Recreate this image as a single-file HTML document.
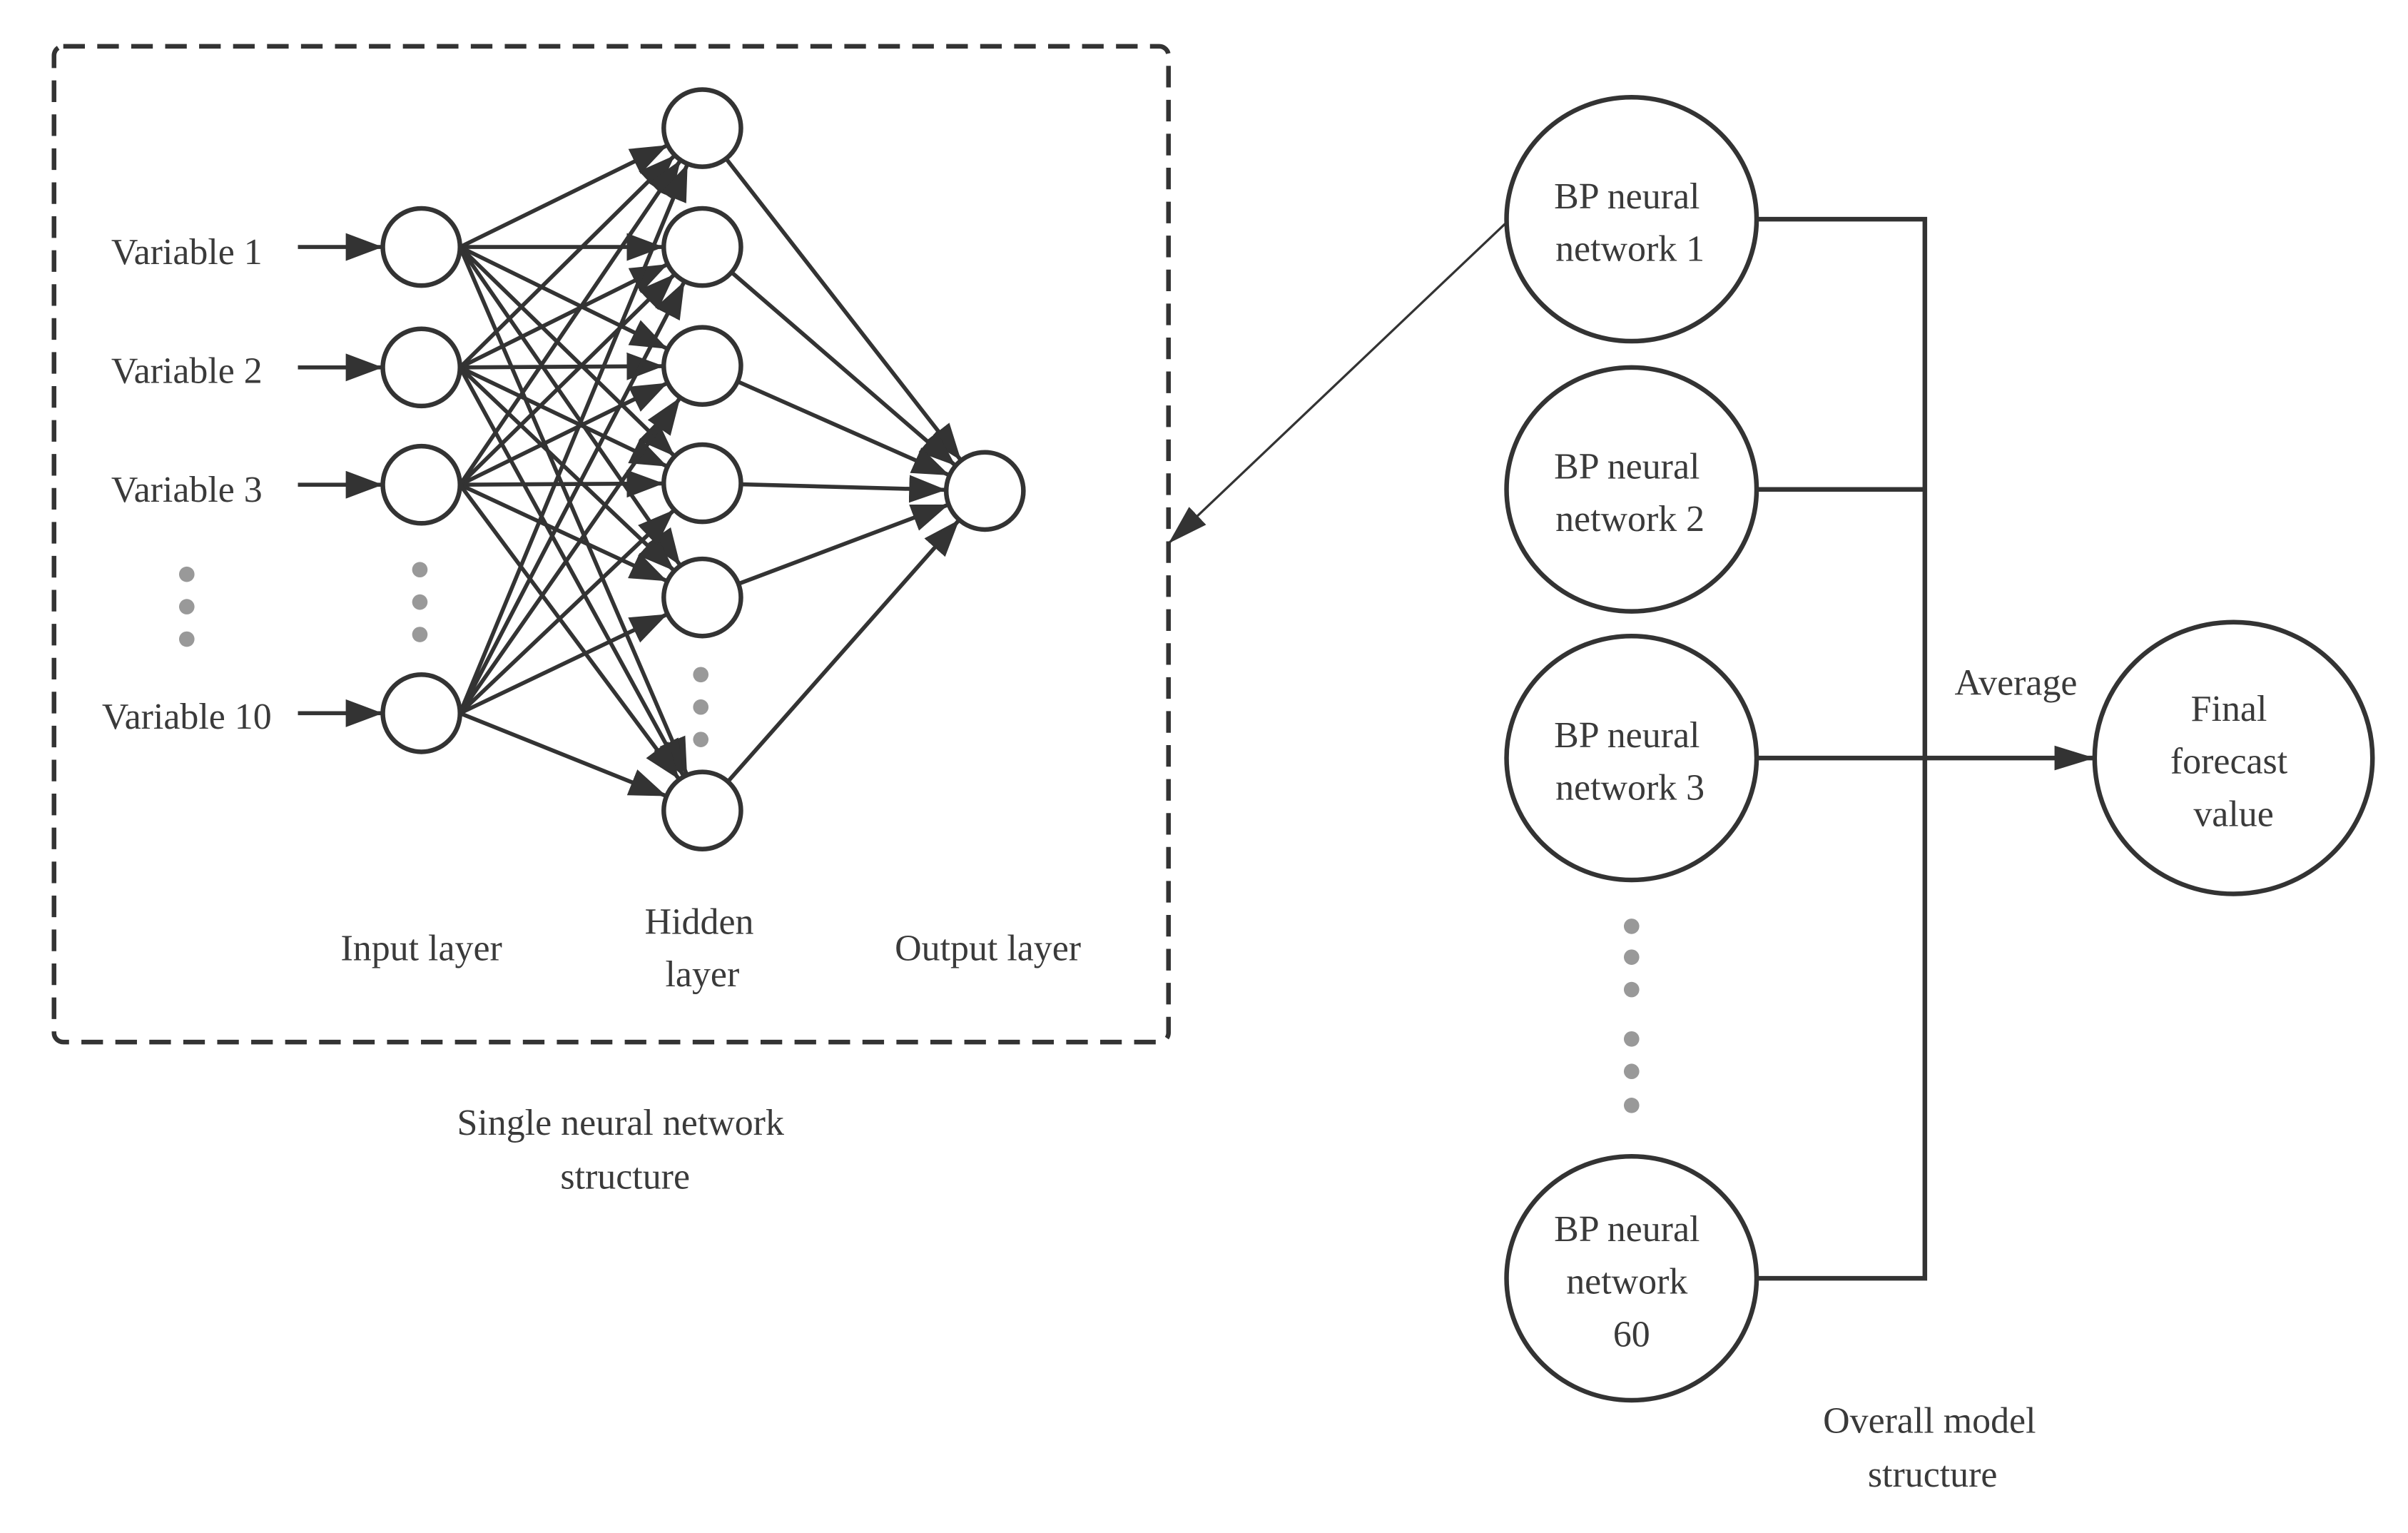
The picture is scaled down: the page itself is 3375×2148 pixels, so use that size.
<!DOCTYPE html>
<html><head><meta charset="utf-8"><style>
html,body{margin:0;padding:0;background:#fff}
svg{display:block}
svg text{font-family:"Liberation Serif","DejaVu Serif",serif;fill:#3a3a3a;font-size:24px}
</style></head><body>
<svg id="s" width="3375" height="2148" viewBox="0 0 1560 993" preserveAspectRatio="none" xmlns="http://www.w3.org/2000/svg">
<defs>
<marker id="a" markerUnits="userSpaceOnUse" markerWidth="26" markerHeight="18" refX="24" refY="9" orient="auto"><path d="M0,0 L24,9 L0,18 z" fill="#333"/></marker>
<marker id="b" markerUnits="userSpaceOnUse" markerWidth="28" markerHeight="18" refX="26" refY="9" orient="auto"><path d="M0,1 L26,9 L0,17 z" fill="#333"/></marker>
</defs>
<rect x="35" y="30" width="722" height="645" rx="6" fill="none" stroke="#333" stroke-width="3" stroke-dasharray="14,8"/>
<g id="edges" stroke="#333" stroke-width="2.6" fill="none"></g>
<g id="nodes" fill="#fff" stroke="#333" stroke-width="3"></g>
<g stroke="#333" stroke-width="3" fill="none">
<path d="M1138,142 H1247 V828 H1138 M1138,317 H1247"/>
<line x1="1138" y1="491" x2="1357" y2="491" marker-end="url(#b)"/>
<line x1="975" y1="145" x2="757" y2="352" stroke-width="1.5" marker-end="url(#b)"/>
</g>
<g fill="#fff" stroke="#333" stroke-width="3">
<ellipse cx="1057" cy="142" rx="81" ry="79"/>
<ellipse cx="1057" cy="317" rx="81" ry="79"/>
<ellipse cx="1057" cy="491" rx="81" ry="79"/>
<ellipse cx="1057" cy="828" rx="81" ry="79"/>
<ellipse cx="1447" cy="491" rx="90" ry="88"/>
</g>
<g fill="#999">
<circle cx="121" cy="372" r="5"/><circle cx="121" cy="393" r="5"/><circle cx="121" cy="414" r="5"/>
<circle cx="272" cy="369" r="5"/><circle cx="272" cy="390" r="5"/><circle cx="272" cy="411" r="5"/>
<circle cx="454" cy="437" r="5"/><circle cx="454" cy="458" r="5"/><circle cx="454" cy="479" r="5"/>
<circle cx="1057" cy="600" r="5"/><circle cx="1057" cy="620" r="5"/><circle cx="1057" cy="641" r="5"/>
<circle cx="1057" cy="673" r="5"/><circle cx="1057" cy="694" r="5"/><circle cx="1057" cy="716" r="5"/>
</g>
<g text-anchor="middle" font-family="Liberation Serif, DejaVu Serif, serif" font-size="24">
<text x="121" y="171">Variable 1</text>
<text x="121" y="248">Variable 2</text>
<text x="121" y="325">Variable 3</text>
<text x="121" y="472">Variable 10</text>
<text x="273" y="622">Input layer</text>
<text x="453" y="605">Hidden</text><text x="455" y="639">layer</text>
<text x="640" y="622">Output layer</text>
<text x="402" y="735">Single neural network</text><text x="405" y="770">structure</text>
<text x="1054" y="135">BP neural</text><text x="1056" y="169">network 1</text>
<text x="1054" y="310">BP neural</text><text x="1056" y="344">network 2</text>
<text x="1054" y="484">BP neural</text><text x="1056" y="518">network 3</text>
<text x="1054" y="804">BP neural</text><text x="1054" y="838">network</text><text x="1057" y="872">60</text>
<text x="1306" y="450">Average</text>
<text x="1444" y="467">Final</text><text x="1444" y="501">forecast</text><text x="1447" y="535">value</text>
<text x="1250" y="928">Overall model</text><text x="1252" y="963">structure</text>
</g>
</svg>
<script>
(function(){
var NS="http://www.w3.org/2000/svg",E=document.getElementById("edges"),N=document.getElementById("nodes");
var R=25,inp=[160,238,314,462],hid=[83,160,237,313,387,525],ix=273,hx=455,ox=638,oy=318;
function ln(x1,y1,x2,y2,m){var l=document.createElementNS(NS,"line");l.setAttribute("x1",x1);l.setAttribute("y1",y1);l.setAttribute("x2",x2);l.setAttribute("y2",y2);if(m)l.setAttribute("marker-end","url(#"+m+")");E.appendChild(l);}
function to(x1,y1,cx,cy,m){var dx=cx-x1,dy=cy-y1,d=Math.sqrt(dx*dx+dy*dy);ln(x1,y1,cx-dx/d*R,cy-dy/d*R,m);}
function c(x,y){var e=document.createElementNS(NS,"ellipse");e.setAttribute("cx",x);e.setAttribute("cy",y);e.setAttribute("rx",R);e.setAttribute("ry",R);N.appendChild(e);}
inp.forEach(function(y){ln(193,y,ix-R,y,"a");hid.forEach(function(h){to(ix+R,y,hx,h,"a");});c(ix,y);});
hid.forEach(function(h){var dx=ox-hx,dy=oy-h,d=Math.sqrt(dx*dx+dy*dy);to(hx+dx/d*R,h+dy/d*R,ox,oy,"a");c(hx,h);});
c(ox,oy);
})();
</script>
</body></html>
